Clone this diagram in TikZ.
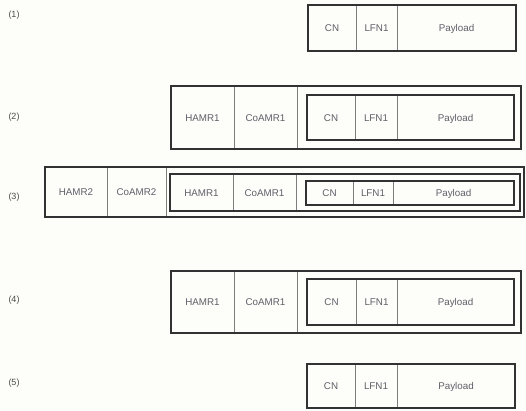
\documentclass[tikz,border=0pt]{standalone}
\usepackage{fontspec}
\setmainfont{Liberation Sans}
\definecolor{paper}{RGB}{253,253,249}
\definecolor{framec}{RGB}{50,50,50}
\definecolor{divc}{RGB}{125,125,125}
\definecolor{txtc}{RGB}{95,95,105}
\newcommand\cellat[6]{\node[cellbox, minimum width={#3-#2}, minimum height={#5-#4}] (#1) at (#2,#4) {#6};}
\newcommand\frameat[5]{\node[framebox, minimum width={#3-#2}, minimum height={#5-#4}] (#1) at (#2,#4) {};}
\begin{document}
\begin{tikzpicture}[x=1pt,y=-1pt,
  framebox/.style={draw=framec, line width=1.2pt, inner sep=0pt, outer sep=0pt, anchor=north west},
  cellbox/.style={draw=divc, line width=0.6pt, inner sep=0pt, outer sep=0pt, anchor=north west,
                  text height=7pt, text depth=0pt,
                  font=\fontsize{9.8}{11}\selectfont, text=txtc},
  rowlabel/.style={font=\fontsize{9}{10}\selectfont, text=black!70}]
\useasboundingbox[fill=paper] (0,0) rectangle (526,410);
% row labels
\node[rowlabel] (l1) at (14,15) {(1)};
\node[rowlabel] (l2) at (14,117) {(2)};
\node[rowlabel] (l3) at (14,197) {(3)};
\node[rowlabel] (l4) at (14,300) {(4)};
\node[rowlabel] (l5) at (14,383) {(5)};
% row 1
\cellat{aCN}{308}{356}{5}{51}{CN}
\cellat{aLFN}{356}{397}{5}{51}{LFN1}
\cellat{aPay}{397}{516}{5}{51}{Payload}
\frameat{aF}{308}{516}{5}{51}
% row 2
\cellat{bHAMR}{171}{234}{86}{149}{HAMR1}
\cellat{bCoAMR}{234}{297}{86}{149}{CoAMR1}
\cellat{bCN}{307}{355}{95}{140}{CN}
\cellat{bLFN}{355}{397}{95}{140}{LFN1}
\cellat{bPay}{397}{514}{95}{140}{Payload}
\frameat{bF}{171}{521}{86}{149}
\frameat{bFi}{307}{514}{95}{140}
% row 3
\cellat{cHAMRt}{45}{107}{167}{217}{HAMR2}
\cellat{cCoAMRt}{107}{166}{167}{217}{CoAMR2}
\cellat{cHAMR}{170}{233}{174}{211}{HAMR1}
\cellat{cCoAMR}{233}{296}{174}{211}{CoAMR1}
\cellat{cCN}{306}{353}{181}{205}{CN}
\cellat{cLFN}{353}{393}{181}{205}{LFN1}
\cellat{cPay}{393}{514}{181}{205}{Payload}
\frameat{cF}{45}{524}{167}{217}
\frameat{cFm}{170}{520}{174}{211}
\frameat{cFi}{306}{514}{181}{205}
% row 4
\cellat{dHAMR}{171}{234}{271}{333}{HAMR1}
\cellat{dCoAMR}{234}{297}{271}{333}{CoAMR1}
\cellat{dCN}{307}{356}{279}{325}{CN}
\cellat{dLFN}{356}{397}{279}{325}{LFN1}
\cellat{dPay}{397}{514}{279}{325}{Payload}
\frameat{dF}{171}{521}{271}{333}
\frameat{dFi}{307}{514}{279}{325}
% row 5
\cellat{eCN}{307}{355}{364}{408}{CN}
\cellat{eLFN}{355}{397}{364}{408}{LFN1}
\cellat{ePay}{397}{515}{364}{408}{Payload}
\frameat{eF}{307}{515}{364}{408}
\end{tikzpicture}
\end{document}
